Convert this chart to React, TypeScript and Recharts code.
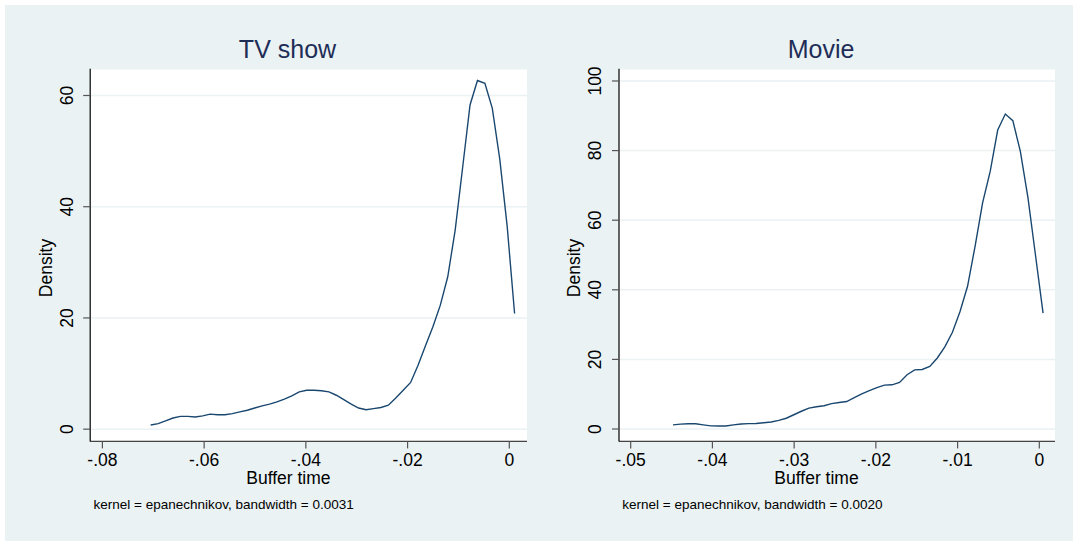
import React from 'react';
import { LineChart, Line, XAxis, YAxis, CartesianGrid } from 'recharts';

// kernel density estimates
const tvX = [
  -0.0705, -0.06904, -0.06758, -0.06612, -0.06466, -0.0632, -0.06174, -0.06028, -0.05882, -0.05736,
  -0.0559, -0.05444, -0.05298, -0.05152, -0.05006, -0.0486, -0.04714, -0.04568, -0.04422, -0.04276,
  -0.0413, -0.03984, -0.03838, -0.03692, -0.03546, -0.034, -0.03254, -0.03108, -0.02962, -0.02816,
  -0.0267, -0.02524, -0.02378, -0.02232, -0.02086, -0.0194, -0.01794, -0.01648, -0.01502, -0.01356,
  -0.0121, -0.01064, -0.00918, -0.00772, -0.00626, -0.0048, -0.00334, -0.00188, -0.00042, 0.00104,
];
const tvDensity = [
  0.75, 1.0, 1.5, 2.0, 2.3, 2.3, 2.2, 2.4, 2.7, 2.6,
  2.6, 2.8, 3.1, 3.4, 3.8, 4.2, 4.5, 4.9, 5.4, 6.0,
  6.7, 7.0, 7.0, 6.9, 6.7, 6.1, 5.3, 4.5, 3.8, 3.5,
  3.7, 3.9, 4.3, 5.6, 7.0, 8.4, 11.5, 15.0, 18.4, 22.3,
  27.4, 35.8, 47.0, 58.3, 62.7, 62.2, 57.7, 48.6, 36.5, 20.8,
];

const movieX = [
  -0.04482, -0.0439, -0.04297, -0.04205, -0.04112, -0.0402, -0.03928, -0.03835, -0.03743, -0.0365,
  -0.03558, -0.03466, -0.03373, -0.03281, -0.03188, -0.03096, -0.03004, -0.02911, -0.02819, -0.02726,
  -0.02634, -0.02542, -0.02449, -0.02357, -0.02264, -0.02172, -0.0208, -0.01987, -0.01895, -0.01802,
  -0.0171, -0.01618, -0.01525, -0.01433, -0.0134, -0.01248, -0.01156, -0.01063, -0.00971, -0.00878,
  -0.00786, -0.00694, -0.00601, -0.00509, -0.00416, -0.00324, -0.00232, -0.00139, -0.00047, 0.00046,
];
const movieDensity = [
  1.2, 1.4, 1.5, 1.5, 1.2, 0.9, 0.85, 0.85, 1.2, 1.45,
  1.55, 1.6, 1.8, 2.0, 2.5, 3.1, 4.1, 5.1, 6.0, 6.4,
  6.7, 7.3, 7.6, 7.9, 9.0, 10.1, 11.0, 11.9, 12.6, 12.7,
  13.4, 15.6, 17.0, 17.1, 18.0, 20.4, 23.6, 27.8, 33.7, 41.0,
  52.5, 65.0, 74.0, 85.9, 90.5, 88.6, 79.8, 66.5, 50.0, 33.3,
];

const tvXTicks = [-0.08, -0.06, -0.04, -0.02, 0];
const tvYTicks = [0, 20, 40, 60];
const movieXTicks = [-0.05, -0.04, -0.03, -0.02, -0.01, 0];
const movieYTicks = [0, 20, 40, 60, 80, 100];

const FONT = '"Liberation Sans", Arial, Helvetica, sans-serif';
const BG = '#EAF2F3';
const LINE = '#1A476F';
const H = 545;
const PLOT_TOP = 68.8;
const PLOT_BOTTOM = 441.4;

// stata style: -.02 instead of -0.02
const fmt = (v: number) => (v === 0 ? '0' : String(v).replace('0.', '.'));

interface PanelProps {
  left: number;
  width: number;
  title: string;
  note: string;
  xs: number[];
  ys: number[];
  xDomain: [number, number];
  yDomain: [number, number];
  xTicks: number[];
  yTicks: number[];
  plotLeft: number;
  plotRight: number;
  yTickX: number;
  densityX: number;
  titleX: number;
  xTitleX: number;
  noteX: number;
}

const Panel: React.FC<PanelProps> = (p) => {
  const data = p.xs.map((x, i) => ({ x, y: p.ys[i] }));
  const yAxisW = 30;
  const xAxisH = 40;
  const tickX = p.yTickX - p.left;

  const YTick = (t: any) => (
    <text
      x={tickX}
      y={t.y}
      transform={`rotate(-90 ${tickX} ${t.y})`}
      textAnchor="middle"
      dominantBaseline="central"
      fontSize={17.5}
      fontFamily={FONT}
      fill="#000"
    >
      {fmt(t.payload.value)}
    </text>
  );

  const XTick = (t: any) => (
    <text x={t.x} y={465.7} textAnchor="middle" fontSize={17.5} fontFamily={FONT} fill="#000">
      {fmt(t.payload.value)}
    </text>
  );

  const abs = (x: number, y: number, extra: React.CSSProperties = {}): React.CSSProperties => ({
    position: 'absolute',
    left: x - p.left,
    top: y,
    lineHeight: 1,
    whiteSpace: 'nowrap',
    fontFamily: FONT,
    color: '#000',
    ...extra,
  });

  return (
    <div style={{ position: 'absolute', left: p.left, top: 0, width: p.width, height: H }}>
      <LineChart
        width={p.width}
        height={H}
        data={data}
        margin={{
          top: PLOT_TOP,
          right: p.left + p.width - p.plotRight,
          bottom: H - PLOT_BOTTOM - xAxisH,
          left: p.plotLeft - p.left - yAxisW,
        }}
      >
        <CartesianGrid vertical={false} stroke={BG} strokeWidth={1.5} fill="#fff" />
        <XAxis
          dataKey="x"
          type="number"
          domain={p.xDomain}
          ticks={p.xTicks}
          allowDataOverflow
          height={xAxisH}
          tickSize={7}
          axisLine={{ stroke: '#444', strokeWidth: 1.2 }}
          tickLine={{ stroke: '#555', strokeWidth: 1.2 }}
          tick={XTick}
        />
        <YAxis
          type="number"
          domain={p.yDomain}
          ticks={p.yTicks}
          allowDataOverflow
          width={yAxisW}
          tickSize={7}
          axisLine={{ stroke: '#000', strokeWidth: 1.2 }}
          tickLine={{ stroke: '#555', strokeWidth: 1.2 }}
          tick={YTick}
        />
        <Line
          type="linear"
          dataKey="y"
          stroke={LINE}
          strokeWidth={1.4}
          dot={false}
          isAnimationActive={false}
        />
      </LineChart>
      <div style={abs(p.titleX, 48.7, { fontSize: 25, color: '#1E2D57', transform: 'translate(-50%,-50%)' })}>
        {p.title}
      </div>
      <div style={abs(p.densityX, 268, { fontSize: 17.5, transform: 'translate(-50%,-50%) rotate(-90deg)' })}>
        Density
      </div>
      <div style={abs(p.xTitleX, 479, { fontSize: 17.5, transform: 'translate(-50%,-50%)' })}>
        Buffer time
      </div>
      <div style={abs(p.noteX, 505, { fontSize: 13.5, transform: 'translateY(-50%)' })}>{p.note}</div>
    </div>
  );
};

export default function App() {
  return (
    <div style={{ position: 'absolute', left: 0, top: 0, width: 1076, height: H, background: '#fff', overflow: 'hidden' }}>
      <div style={{ position: 'absolute', left: 5, top: 5, width: 1068, height: 536, background: BG }} />
      <Panel
        left={0}
        width={540}
        title="TV show"
        note="kernel = epanechnikov, bandwidth = 0.0031"
        xs={tvX}
        ys={tvDensity}
        xDomain={[-0.0824, 0.00348]}
        yDomain={[-2.2, 64.8]}
        xTicks={tvXTicks}
        yTicks={tvYTicks}
        plotLeft={90.2}
        plotRight={527}
        yTickX={67.5}
        densityX={46.5}
        titleX={287.5}
        xTitleX={288.4}
        noteX={93.5}
      />
      <Panel
        left={540}
        width={536}
        title="Movie"
        note="kernel = epanechnikov, bandwidth = 0.0020"
        xs={movieX}
        ys={movieDensity}
        xDomain={[-0.05143, 0.00192]}
        yDomain={[-3.56, 103.5]}
        xTicks={movieXTicks}
        yTicks={movieYTicks}
        plotLeft={619}
        plotRight={1055}
        yTickX={595}
        densityX={574.6}
        titleX={821}
        xTitleX={816.5}
        noteX={622.3}
      />
    </div>
  );
}
